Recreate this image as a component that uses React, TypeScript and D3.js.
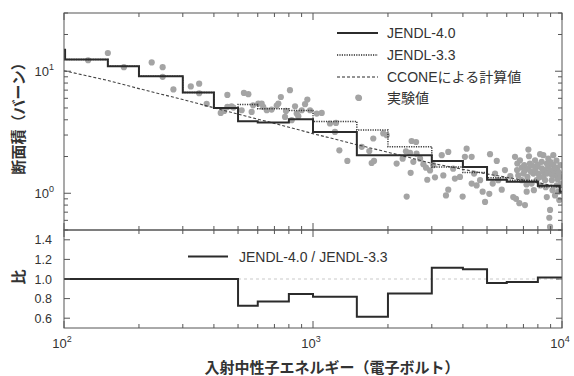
import React from 'react';
import * as d3 from 'd3';

// energy bin edges (eV) for the evaluated cross sections
const binEdges = [100, 101, 150, 200, 300, 400, 500, 600, 800, 1000, 1500, 2000, 3000, 4000, 5000, 6000, 8000, 9800, 10000];
const jendl40 = [15, 12.5, 11.0, 9.1, 6.7, 5.0, 3.9, 3.8, 4.04, 3.18, 2.05, 2.05, 1.84, 1.64, 1.29, 1.24, 1.15, 1.03];
const jendl33 = [15, 12.5, 11.0, 9.1, 6.7, 5.0, 5.35, 4.93, 4.77, 3.88, 3.3, 2.41, 1.64, 1.48, 1.34, 1.28, 1.13, 1.02];

const ccE = [100, 150, 200, 300, 500, 700, 1000, 1500, 2000, 3000, 5000, 7000, 10000];
const ccSigma = [10.1, 8.4, 7.2, 5.86, 4.45, 3.74, 3.08, 2.5, 2.17, 1.76, 1.44, 1.28, 1.12];

const ratioEdges = [100, 500, 600, 800, 1000, 1500, 2000, 3000, 4000, 5000, 6000, 8000, 10000];
const ratioValues = [1.0, 0.727, 0.77, 0.846, 0.82, 0.616, 0.853, 1.116, 1.1, 0.96, 0.97, 1.015];

const ratioTicks = [0.6, 0.8, 1.0, 1.2, 1.4];

// experimental points [energy eV, cross section b]
const expPoints: [number, number][] = [
  [125, 12.3], [150, 14.1], [174, 10.8], [225, 11.8], [249, 10.8], [249, 9.0], [275, 7.1], [323, 7.5],
  [349, 7.9], [349, 6.6], [374, 5.4], [453, 6.4], [453, 5.1], [426, 4.55], [440, 4.73], [471, 5.16],
  [479, 5.04], [528, 6.64], [550, 6.48], [517, 4.79], [567, 4.64], [575, 5.26], [603, 5.43], [631, 5.1],
  [652, 4.79], [622, 5.43], [682, 4.85], [715, 5.24], [726, 5.43], [743, 6.15], [779, 4.73], [772, 4.22],
  [847, 5.16], [860, 4.5], [901, 4.79], [949, 5.86], [929, 5.37], [973, 4.79], [1035, 4.5], [821, 3.97],
  [873, 4.28], [808, 6.99],
  [1084, 4.55], [1170, 3.73], [1237, 3.77], [1225, 3.18], [1276, 2.25], [1374, 1.84], [1520, 6.09],
  [1570, 2.4], [1683, 2.22], [1746, 2.81], [1720, 1.77], [1758, 1.84], [1915, 3.09], [1977, 2.99],
  [2167, 1.75], [2291, 1.92], [2362, 2.21], [2489, 2.68], [2594, 2.63], [2453, 2.14], [2606, 2.11],
  [2692, 1.92], [2775, 1.73], [2843, 1.62], [2951, 1.54], [2467, 1.47], [2877, 1.29], [3090, 1.35],
  [2378, 0.94], [3041, 1.7], [2529, 1.81],
  [3493, 2.18], [3289, 2.05], [3337, 1.4], [3420, 0.96], [3493, 1.07], [3656, 1.59], [3715, 1.32],
  [3893, 1.36], [3990, 0.94], [4074, 1.99], [4140, 2.32], [4337, 1.99], [4436, 1.45], [4539, 1.16],
  [4337, 1.2], [4688, 1.28], [4800, 1.03], [4909, 0.85], [5140, 2.09], [5105, 0.99], [5470, 1.84],
  [5383, 1.45], [5548, 1.28], [5728, 1.07], [5270, 1.2], [6475, 1.99], [6617, 1.75], [6780, 1.86],
  [6535, 0.9], [6741, 0.83], [7100, 0.8], [7213, 1.03], [6887, 1.28], [6998, 1.45], [7328, 2.28],
  [7432, 1.75], [7674, 1.45], [7907, 1.64], [8165, 2.09], [8285, 1.81], [8414, 1.36], [8689, 1.75],
  [8689, 0.93], [8954, 1.54], [9099, 1.28], [9226, 1.7], [9376, 1.4], [9528, 1.16], [9661, 1.03],
  [9750, 0.88], [8892, 0.63], [8954, 0.53], [7907, 1.28], [8165, 1.16], [7551, 1.2], [8414, 1.5],
  [8810, 1.92], [9226, 2.05], [9817, 1.36], [9376, 0.96], [7100, 1.54], [7261, 1.36], [8035, 1.45],
  [8551, 1.28], [6675, 1.4], [6370, 0.93], [8414, 2.05], [8954, 0.73], [7795, 1.86], [9160, 1.06],
  [9590, 1.54], [7710, 1.06], [7370, 2.01],
  [6600, 1.55], [6900, 1.62], [7050, 1.7], [7300, 1.6], [7500, 1.5], [7600, 1.68], [7800, 1.55],
  [8000, 1.72], [8100, 1.35], [8300, 1.6], [8500, 1.55], [8700, 1.45], [8800, 1.65], [9000, 1.8],
  [9100, 1.42], [9300, 1.55], [9450, 1.62], [9600, 1.3], [9700, 1.48], [9900, 1.2], [9850, 1.7],
  [9500, 1.85], [8600, 1.12], [7200, 1.18], [5900, 1.55], [6200, 1.38],
];

const W = 574, H = 376;
const L = 64, R = 562, T = 13, M = 230, B = 328;
const ink = '#333';
const frame = '#555';
const latin = "'Liberation Sans', 'Noto Sans CJK JP', sans-serif";
const jp = "'Noto Sans CJK JP', sans-serif";

const isDecade = (v: number) => Math.abs(Math.log10(v) - Math.round(Math.log10(v))) < 1e-6;

const App = () => {
  const x = d3.scaleLog().domain([100, 10000]).range([L, R]);
  const yTop = d3.scaleLog().domain([0.5, 30]).range([M, T]);
  const yBot = d3.scaleLinear().domain([0.5, 1.5]).range([B, M]);

  const steps = (edges: number[], vals: number[]) =>
    edges.map((e, i) => [e, vals[Math.min(i, vals.length - 1)]] as [number, number]);

  const topStep = d3.line<[number, number]>().x(d => x(d[0])).y(d => yTop(d[1])).curve(d3.curveStepAfter);
  const topLine = d3.line<[number, number]>().x(d => x(d[0])).y(d => yTop(d[1]));
  const botStep = d3.line<[number, number]>().x(d => x(d[0])).y(d => yBot(d[1])).curve(d3.curveStepAfter);

  const xTicks = x.ticks();
  const yTicks = yTop.ticks();

  const tickLines: JSX.Element[] = [];
  xTicks.forEach((v, i) => {
    const px = x(v);
    const len = isDecade(v) ? 7 : 4;
    [[T, 1], [M, -1], [M, 1], [B, -1]].forEach(([y0, dir], j) => {
      tickLines.push(<line key={`x${i}-${j}`} x1={px} x2={px} y1={y0} y2={y0 + dir * len} />);
    });
  });
  yTicks.forEach((v, i) => {
    const py = yTop(v);
    const len = isDecade(v) ? 7 : 4;
    tickLines.push(<line key={`yl${i}`} x1={L} x2={L + len} y1={py} y2={py} />);
    tickLines.push(<line key={`yr${i}`} x1={R} x2={R - len} y1={py} y2={py} />);
  });
  ratioTicks.forEach((v, i) => {
    const py = yBot(v);
    tickLines.push(<line key={`rl${i}`} x1={L} x2={L + 6} y1={py} y2={py} />);
    tickLines.push(<line key={`rr${i}`} x1={R} x2={R - 6} y1={py} y2={py} />);
  });

  const legendRows = [
    { label: 'JENDL-4.0', dash: '', width: 2.2, y: 33 },
    { label: 'JENDL-3.3', dash: '1.2,1.2', width: 1.5, y: 55 },
    { label: 'CCONEによる計算値', dash: '3,2', width: 1.1, y: 77 },
  ];

  return (
    <svg width={W} height={H} style={{ position: 'absolute', left: 0, top: 0, background: '#fff' }}>
      <defs>
        <clipPath id="clipTop"><rect x={L} y={T} width={R - L} height={M - T} /></clipPath>
        <clipPath id="clipBot"><rect x={L} y={M} width={R - L} height={B - M} /></clipPath>
      </defs>

      {/* upper panel */}
      <g clipPath="url(#clipTop)">
        {expPoints.map((p, i) => (
          <circle key={i} cx={x(p[0])} cy={yTop(p[1])} r={3.1} fill="#a4a4a4" />
        ))}
        <path d={topLine(ccE.map((e, i) => [e, ccSigma[i]] as [number, number])) || ''}
          fill="none" stroke="#444" strokeWidth={1.1} strokeDasharray="3,2" />
        <path d={topStep(steps(binEdges, jendl33)) || ''}
          fill="none" stroke="#3a3a3a" strokeWidth={1.5} strokeDasharray="1.2,1.2" />
        <path d={topStep(steps(binEdges, jendl40)) || ''}
          fill="none" stroke="#2b2b2b" strokeWidth={2} />
      </g>

      {/* lower panel */}
      <g clipPath="url(#clipBot)">
        <line x1={L} x2={R} y1={yBot(1)} y2={yBot(1)} stroke="#bbb" strokeWidth={0.8} strokeDasharray="3,3" />
        <path d={botStep(steps(ratioEdges, ratioValues)) || ''} fill="none" stroke="#2b2b2b" strokeWidth={2} />
      </g>

      {/* frames and ticks */}
      <g stroke={frame} strokeWidth={1} fill="none">
        <rect x={L} y={T} width={R - L} height={M - T} />
        <rect x={L} y={M} width={R - L} height={B - M} />
        {tickLines}
      </g>

      {/* tick labels */}
      <g fill={ink} fontFamily={latin} fontSize={13}>
        {yTicks.filter(isDecade).map(v => (
          <text key={v} x={54} y={yTop(v) + 5} textAnchor="end">
            10<tspan dy={-6} fontSize={9}>{Math.round(Math.log10(v))}</tspan>
          </text>
        ))}
        {ratioTicks.map(v => (
          <text key={v} x={52} y={yBot(v) + 4.5} textAnchor="end" fontSize={12.5}>{v.toFixed(1)}</text>
        ))}
        {xTicks.filter(isDecade).map(v => (
          <text key={v} x={x(v) - 2} y={348} textAnchor="middle">
            10<tspan dy={-6} fontSize={9}>{Math.round(Math.log10(v))}</tspan>
          </text>
        ))}
      </g>

      {/* legend upper */}
      <g fontFamily={latin} fontSize={14} fill={ink}>
        {legendRows.map(r => (
          <g key={r.label}>
            <line x1={337} x2={378} y1={r.y} y2={r.y} stroke="#2b2b2b" strokeWidth={r.width}
              strokeDasharray={r.dash || undefined} />
            <text x={387} y={r.y + 5}>{r.label}</text>
          </g>
        ))}
        <circle cx={359} cy={98} r={3.1} fill="#a4a4a4" />
        <text x={387} y={103} fontFamily={jp}>実験値</text>
      </g>

      {/* legend lower */}
      <g fontFamily={latin} fontSize={14} fill={ink}>
        <line x1={188} x2={228} y1={256.5} y2={256.5} stroke="#2b2b2b" strokeWidth={2} />
        <text x={239} y={262}>JENDL-4.0 / JENDL-3.3</text>
      </g>

      {/* axis titles */}
      <g fontFamily={jp} fontSize={15} fontWeight="bold" fill={ink}>
        <text transform="translate(24,115) rotate(-90)" textAnchor="middle">断面積（バーン）</text>
        <text transform="translate(24,277) rotate(-90)" textAnchor="middle">比</text>
        <text x={332} y={373} textAnchor="middle">入射中性子エネルギー（電子ボルト）</text>
      </g>
    </svg>
  );
};

export default App;
